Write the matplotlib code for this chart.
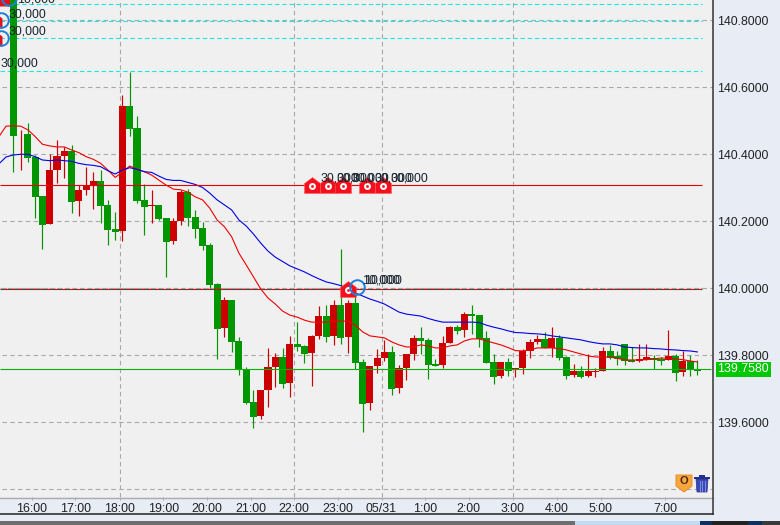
import matplotlib
matplotlib.use("Agg")
import matplotlib.pyplot as plt
import numpy as np
from matplotlib.path import Path
from matplotlib.patches import Rectangle, Polygon

plt.rcParams['font.family'] = ['Liberation Sans', 'DejaVu Sans']

# 10 minute candles, first one sits just right of the left edge
opens = [140.89,140.460,140.461,140.393,140.276,140.193,140.354,140.395,140.410,140.262,
140.293,140.306,140.320,140.249,140.177,140.172,140.544,140.479,140.264,140.247,
140.249,140.210,140.141,140.201,140.288,140.213,140.180,140.129,140.013,139.882,
139.965,139.843,139.759,139.661,139.619,139.696,139.765,139.795,139.717,139.834,
139.828,139.807,139.858,139.917,139.858,139.950,139.855,139.956,139.780,139.658,
139.768,139.792,139.810,139.702,139.762,139.804,139.852,139.846,139.774,139.771,
139.837,139.884,139.875,139.923,139.920,139.852,139.780,139.738,139.780,139.756,
139.762,139.813,139.840,139.849,139.822,139.852,139.795,139.741,139.753,139.738,
139.750,139.753,139.813,139.798,139.834,139.786,139.783,139.786,139.792,139.789,
139.786,139.798,139.750,139.783,139.759]
closes = [140.455,140.462,140.390,140.274,140.189,140.353,140.395,140.410,140.259,140.293,
140.306,140.320,140.247,140.174,140.169,140.544,140.477,140.261,140.243,140.249,
140.207,140.138,140.201,140.288,140.210,140.177,140.126,140.010,139.879,139.965,
139.840,139.758,139.658,139.616,139.696,139.765,139.795,139.714,139.834,139.825,
139.804,139.858,139.917,139.855,139.950,139.852,139.956,139.777,139.655,139.768,
139.792,139.810,139.699,139.762,139.804,139.852,139.843,139.771,139.768,139.837,
139.884,139.873,139.923,139.917,139.849,139.777,139.735,139.780,139.753,139.762,
139.813,139.840,139.849,139.822,139.852,139.792,139.738,139.753,139.735,139.753,
139.753,139.813,139.792,139.789,139.783,139.780,139.789,139.795,139.786,139.783,
139.798,139.747,139.783,139.756,139.753]
highs = [140.95,140.473,140.492,140.398,140.276,140.401,140.443,140.423,140.427,140.308,
140.361,140.347,140.353,140.264,140.228,140.577,140.646,140.514,140.311,140.293,
140.249,140.210,140.210,140.293,140.296,140.234,140.198,140.135,140.017,139.974,
139.965,139.855,139.765,139.696,139.696,139.822,139.807,139.822,139.858,139.900,
139.831,139.861,139.947,139.950,139.965,140.117,139.965,139.974,139.789,139.768,
139.819,139.846,139.828,139.771,139.804,139.861,139.884,139.852,139.789,139.858,
139.887,139.890,139.929,139.950,139.920,139.873,139.804,139.780,139.792,139.762,
139.819,139.849,139.861,139.870,139.884,139.861,139.798,139.774,139.768,139.804,
139.762,139.825,139.831,139.813,139.834,139.825,139.834,139.834,139.801,139.795,
139.875,139.804,139.813,139.801,139.786]
lows = [140.348,140.353,140.378,140.211,140.118,140.193,140.315,140.330,140.226,140.217,
140.278,140.237,140.196,140.129,140.144,140.142,140.455,140.256,140.159,140.196,
140.204,140.035,140.132,140.189,140.186,140.150,140.114,140.001,139.789,139.855,
139.810,139.741,139.655,139.583,139.610,139.646,139.705,139.702,139.676,139.813,
139.777,139.708,139.849,139.840,139.831,139.834,139.807,139.759,139.571,139.637,
139.747,139.783,139.681,139.687,139.726,139.786,139.804,139.729,139.768,139.762,
139.837,139.864,139.855,139.864,139.825,139.777,139.714,139.732,139.738,139.735,
139.744,139.792,139.834,139.822,139.795,139.786,139.729,139.735,139.732,139.735,
139.735,139.753,139.789,139.771,139.771,139.780,139.780,139.786,139.759,139.771,
139.786,139.723,139.738,139.738,139.741]

# moving averages start two candles before the first candle
ma_fast = [140.452,140.484,140.485,140.484,140.473,140.453,140.430,140.425,140.422,140.422,
140.413,140.405,140.393,140.385,140.373,140.353,140.331,140.347,140.365,140.356,
140.348,140.338,140.323,140.308,140.296,140.294,140.287,140.273,140.264,140.239,
140.204,140.184,140.154,140.105,140.070,140.034,139.998,139.971,139.953,139.932,
139.920,139.914,139.905,139.899,139.899,139.899,139.902,139.902,139.902,139.890,
139.870,139.858,139.855,139.852,139.840,139.831,139.825,139.825,139.831,139.828,
139.822,139.822,139.828,139.831,139.843,139.849,139.849,139.843,139.837,139.831,
139.823,139.814,139.813,139.816,139.822,139.822,139.822,139.820,139.816,139.810,
139.804,139.798,139.795,139.795,139.795,139.791,139.786,139.786,139.786,139.787,
139.789,139.792,139.791,139.789,139.787,139.783,139.780]
ma_slow = [140.371,140.392,140.398,140.400,140.400,140.393,140.383,140.381,140.383,140.381,
140.379,140.373,140.369,140.367,140.363,140.351,140.341,140.353,140.360,140.355,
140.348,140.346,140.335,140.325,140.322,140.322,140.316,140.310,140.301,140.284,
140.264,140.249,140.234,140.204,140.186,140.162,140.135,140.111,140.093,140.080,
140.067,140.058,140.049,140.038,140.028,140.019,140.014,140.008,139.998,139.986,
139.977,139.968,139.961,139.953,139.941,139.929,139.923,139.920,139.917,139.910,
139.904,139.899,139.899,139.899,139.899,139.899,139.898,139.890,139.884,139.879,
139.873,139.868,139.867,139.865,139.864,139.862,139.858,139.855,139.852,139.849,
139.846,139.841,139.837,139.834,139.834,139.831,139.825,139.823,139.822,139.822,
139.820,139.819,139.817,139.816,139.814,139.813,139.810]

tick_pos = [2.5,8.5,14.6,20.6,26.6,32.6,38.6,44.6,50.6,56.6,62.6,68.6,74.7,80.7,89.6]
tick_labels = ["16:00","17:00","18:00","19:00","20:00","21:00","22:00","23:00","05/31",
               "1:00","2:00","3:00","4:00","5:00","7:00"]
vgrid_pos = [14.6,38.6,50.6,68.6]
price_levels = [140.8,140.6,140.4,140.2,140.0,139.8,139.6,139.4]
price_labels = ["140.8000","140.6000","140.4000","140.2000","140.0000","139.8000","139.6000",""]

cyan_levels = [140.848,140.798,140.746,140.648,140.002]
red_levels = [140.308,139.998]
last_price = 139.758

order_x = [41.0,43.25,45.3,48.6,50.8]
order_y = 140.308
order_text_x = [42.2,44.4,46.5,49.7,51.9]
stop_x = 46.0
ring_x = [-1.7,-1.7,-0.6,47.2]
ring_y = [140.800,140.746,140.866,140.003]
left_red_x = [-2.65,-2.65,-1.1]
left_red_y = [140.800,140.746,140.866]

W, H = 780, 525
fig = plt.figure(figsize=(W/100, H/100), dpi=100, facecolor='#e8ecf5')
ax = fig.add_axes([0, (H-497)/H, 712.5/W, 497/H], facecolor='#f0f0f0')
ax.set_xlim(-1.83, 96.08)
ax.set_ylim(139.377, 140.8606)
for s in ax.spines.values():
    s.set_visible(False)

grey = '#a8a8a8'
dash = (0, (4, 3))
ax.hlines(price_levels, -1.6, 96.08, colors=grey, lw=0.8, linestyles=[dash], zorder=1)
ax.vlines(vgrid_pos, 139.377, 140.8606, colors=grey, lw=0.8, linestyles=[dash], zorder=1)
ax.hlines(cyan_levels, -1.83, 94.7, colors='#19e6e6', lw=0.8, linestyles=[(0, (4, 2.5))], zorder=1)

# order flags cut off at the left edge sit behind the candles
house = Path([(-1,-1),(1,-1),(1,0.25),(0,1),(-1,0.25),(-1,-1)], closed=True)
ax.plot(left_red_x, left_red_y, ls='', marker=house, ms=11.5, mfc='#e0101c', mec='none', zorder=2)

x = np.arange(len(opens))
o = np.array(opens)
c = np.array(closes)
up = c >= o
col = np.where(up, '#cc0000', '#009600')
ax.vlines(x, lows, highs, colors=col, lw=0.85, zorder=3)
ax.bar(x, np.maximum(np.abs(c-o), 0.002), bottom=np.minimum(o, c), width=0.97, color=col,
       linewidth=0, antialiased=False, zorder=4)

ma_x = np.arange(len(ma_fast)) - 2
ax.plot(ma_x, ma_fast, color='#f00000', lw=0.8, zorder=5)
ax.plot(ma_x, ma_slow, color='#0000e6', lw=0.8, zorder=5)

ax.hlines(red_levels, -1.83, 94.7, colors='#e60000', lw=0.8, zorder=6, snap=True)
ax.hlines(last_price, -1.83, 95.9, colors='#00b400', lw=0.8, zorder=6, snap=True)

flag_x = order_x + [stop_x]
flag_y = [order_y]*5 + [139.998]
ax.plot(flag_x, flag_y, ls='', marker=house, ms=11.5, mfc='#f5101c', mec='#ff5a60', mew=0.4, zorder=7)
ax.plot(flag_x, np.array(flag_y)-0.004, ls='', marker='o', ms=5, mfc='white', mec='none', zorder=8)
ax.plot(flag_x, np.array(flag_y)-0.004, ls='', marker='o', ms=2, mfc='#f5101c', mec='none', zorder=9)
ax.plot(ring_x, ring_y, ls='', marker='o', ms=10.5, mfc='none', mec='#1e7fd8', mew=1.4, zorder=10)

txt = dict(color='#1a2530', fontsize=8.9, va='center', ha='left', zorder=11, clip_on=True)
for tx in order_text_x:
    ax.text(tx, 140.328, "30,000", **txt)
ax.text(47.9, 140.024, "10,000", **txt)
ax.text(48.2, 140.024, "10,000", **txt)
ax.text(-0.6, 140.818, "30,000", **txt)
ax.text(-0.6, 140.768, "30,000", **txt)
ax.text(-1.7, 140.670, "30,000", **txt)
ax.text(0.5, 140.862, "10,000", **txt)

ax.yaxis.tick_right()
ax.set_yticks(price_levels)
ax.set_yticklabels(price_labels, fontsize=8.9, color='#222222')
ax.tick_params(axis='y', length=0, pad=3.5)
ax.set_xticks(tick_pos)
ax.set_xticklabels(tick_labels, fontsize=8.9, color='#222222')
ax.tick_params(axis='x', length=2.5, width=0.7, color=grey, pad=1.5)

ax.annotate(f"{last_price:.4f}", xy=(1, last_price), xycoords=('axes fraction', 'data'),
            xytext=(3.5, 0), textcoords='offset points', va='center', ha='left',
            fontsize=8.9, color='white', annotation_clip=False,
            bbox=dict(boxstyle='square,pad=0.14', fc='#00c800', ec='none'))

# window frame and icons, in pixel units
top = fig.add_axes([0, 0, 1, 1], facecolor='none', zorder=20)
top.set_xlim(0, W)
top.set_ylim(H, 0)
top.axis('off')
top.plot([0, 712.5], [497.5, 497.5], color='#aaaaaa', lw=1.0)
top.plot([712.5, 712.5], [0, 514], color='#333333', lw=1.1)
top.plot([0, 713], [514, 514], color='#222222', lw=1.1)
top.add_patch(Rectangle((0, 521), W, 4, fc='#6e6e6e', ec='none'))
top.add_patch(Rectangle((575, 521), 125, 4, fc='#c4dcf2', ec='none'))
top.add_patch(Rectangle((700, 521), 12, 4, fc='#0c3060', ec='none'))
top.add_patch(Rectangle((712, 521), 36, 4, fc='#222222', ec='none'))
top.add_patch(Rectangle((748, 521), 14, 4, fc='#0c3060', ec='none'))
top.add_patch(Rectangle((762, 521), 18, 4, fc='#3a3a3a', ec='none'))

top.add_patch(Polygon([(676,475),(692,475),(692,486),(684,492),(676,486)], fc='#f7a640', ec='#f08a20', lw=0.7))
top.text(684, 481.5, "O", fontsize=8, fontweight='bold', color='#4a2c00', ha='center', va='center')
top.add_patch(Polygon([(696,479),(708,479),(707,492),(697,492)], fc='#3a48b8', ec='#26308c', lw=0.5))
top.add_patch(Rectangle((694, 476.5), 16, 2.5, fc='#26308c', ec='none'))
top.add_patch(Rectangle((699, 475), 6, 1.8, fc='#26308c', ec='none'))
for bx in [699.5, 702, 704.5]:
    top.plot([bx, bx], [481, 490.5], color='#7f8ce0', lw=0.7)

fig.savefig("out.png", dpi=100, facecolor=fig.get_facecolor())
